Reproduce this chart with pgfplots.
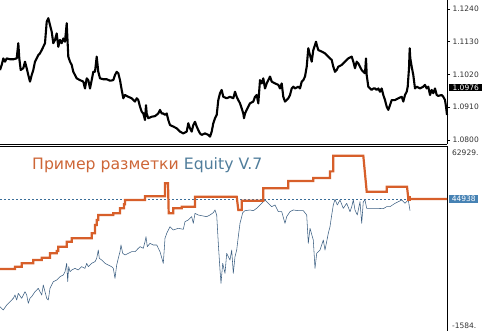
\documentclass[border=0pt]{standalone}
\usepackage{fontspec}
\setmainfont{DejaVu Sans}
\usepackage{pgfplots}
\pgfplotsset{compat=1.18}
\definecolor{eqorange}{RGB}{215,95,42}
\definecolor{eqtitle}{RGB}{205,102,55}
\definecolor{eqblue}{RGB}{60,95,130}
\definecolor{eqtext}{RGB}{80,125,155}
\definecolor{lblblue}{RGB}{70,130,180}
\begin{document}
\begin{tikzpicture}
\useasboundingbox (0pt,0pt) rectangle (482pt,331pt);
% ---------- price panel ----------
\begin{axis}[at={(0pt,187pt)}, anchor=south west, scale only axis,
  width=447pt, height=144pt, xmin=0, xmax=447, ymin=1.07864, ymax=1.12702,
  axis x line*=bottom, axis y line*=right,
  axis line style={-, black, line width=0.8pt},
  xtick=\empty,
  ytick={1.08,1.091,1.102,1.113,1.124},
  yticklabels={1.0800,1.0910,1.1020,1.1130,1.1240},
  tick align=outside, major tick length=3pt,
  tick style={black, line width=0.6pt},
  yticklabel style={font=\fontsize{7.5}{8}\selectfont, text=black!80, xshift=-1pt},
  clip=false]
\addplot[black, line width=2.1pt, line join=round] coordinates {
(0,1.1035)(1.7,1.1052)(3.3,1.1074)(5,1.1063)(6.7,1.1074)(10,1.1071)(13.3,1.1071)(16.7,1.1074)(18.3,1.1125)(19.3,1.1074)(20.7,1.1035)(23.3,1.1041)(25,1.1063)(26.7,1.1041)(28.3,1.1018)(30,1.0996)(31.7,1.1018)(33.3,1.1035)(35,1.1063)(36.7,1.1074)(38.3,1.1085)(40,1.1091)(41.7,1.1102)(43.3,1.1113)(45,1.1125)(46.7,1.1197)(48.3,1.1209)(50,1.1186)(51.7,1.1164)(53.3,1.1125)(55,1.1136)(56.7,1.1158)(58.3,1.1113)(60,1.1136)(61.7,1.1125)(63.3,1.1141)(65,1.1130)(66.7,1.1192)(68.3,1.1080)(70,1.1063)(71.7,1.1052)(73.3,1.1029)(75,1.1018)(76.7,1.1007)(80,1.1001)(83.3,1.0996)(85,1.0973)(86.7,1.1007)(88.3,1.1001)(90,1.0973)(91.7,1.1001)(93.3,1.1029)(95,1.1029)(96.7,1.1080)(98.3,1.1029)(100,1.1007)(103.3,1.1004)(106.7,1.1004)(110,1.0999)(113.3,1.1001)(115,1.1018)(116.7,1.1029)(118.3,1.1024)(120,1.1001)(121.7,1.0968)(123.3,1.0940)(125,1.0951)(128.3,1.0945)(131.7,1.0940)(135,1.0929)(136.7,1.0940)(138.3,1.0934)(140,1.0912)(141.7,1.0895)(143.3,1.0889)(145,1.0867)(146,1.0917)(146.7,1.0889)(148.3,1.0873)(151.7,1.0878)(155,1.0880)(158.3,1.0889)(160,1.0901)(161.7,1.0889)(163.3,1.0889)(165,1.0884)(166.7,1.0889)(168.3,1.0867)(170,1.0850)(173.3,1.0845)(176.7,1.0839)(180,1.0828)(183.3,1.0822)(186.7,1.0828)(188.3,1.0856)(190,1.0839)(191.7,1.0828)(193.3,1.0850)(195,1.0861)(196.7,1.0845)(198.3,1.0833)(200,1.0822)(201.7,1.0817)(205,1.0822)(208.3,1.0817)(210,1.0811)(211.7,1.0828)(213.3,1.0856)(215,1.0873)(216.7,1.0884)(218.3,1.0934)(220,1.0957)(221.7,1.0968)(223.3,1.0945)(226.7,1.0940)(230,1.0945)(233.3,1.0940)(235,1.0962)(236.7,1.0945)(238.3,1.0934)(240,1.0923)(241.7,1.0906)(243.3,1.0889)(244,1.0873)(245,1.0889)(246.7,1.0901)(248.3,1.0912)(250,1.0923)(253.3,1.0929)(255,1.0945)(256.7,1.0951)(258.3,1.0923)(260,1.1001)(261.7,1.0990)(263.3,1.1007)(265,1.0973)(266.7,1.0990)(268.3,1.1001)(270,1.1013)(271.7,1.0996)(275,1.0990)(278.3,1.0985)(280,1.0973)(281.7,1.0990)(283.3,1.0945)(285,1.0929)(286.7,1.0934)(288.3,1.0940)(290,1.0951)(291.7,1.0973)(293.3,1.0979)(295,1.0973)(298.3,1.0979)(300,1.0973)(301.7,1.0996)(303.3,1.1001)(305,1.1013)(306.7,1.1046)(308.3,1.1108)(310,1.1085)(311.7,1.1063)(313.3,1.1102)(315,1.1119)(316,1.1130)(317.3,1.1113)(318.3,1.1102)(321.7,1.1097)(325,1.1091)(328.3,1.1080)(330,1.1074)(331.7,1.1069)(333.3,1.1046)(335,1.1029)(336.7,1.1035)(338.3,1.1046)(341.7,1.1052)(345,1.1063)(348.3,1.1074)(351.7,1.1080)(353.3,1.1063)(355,1.1041)(356.7,1.1063)(358.3,1.1057)(360,1.1046)(361.7,1.1035)(363.3,1.1029)(365,1.1024)(366,1.1074)(366.7,1.1018)(368.3,1.0979)(370,1.0973)(371.7,1.0968)(373.3,1.0973)(375,1.0973)(376.7,1.0968)(378.3,1.0973)(380,1.0962)(381.7,1.0973)(383.3,1.0951)(385,1.0934)(386.7,1.0912)(388.3,1.0901)(390,1.0917)(391.7,1.0934)(395,1.0934)(398.3,1.0940)(401.7,1.0945)(403.3,1.0929)(405,1.0951)(406.7,1.0962)(407.7,1.0979)(409,1.1041)(409.7,1.1108)(410.3,1.1074)(411.7,1.1046)(413.3,1.1018)(415,1.0973)(416.7,1.0979)(420,1.0973)(423.3,1.0979)(425,1.0985)(426.7,1.0973)(428.3,1.0979)(430,1.0951)(431.7,1.0968)(433.3,1.0957)(435,1.0973)(436.7,1.0951)(438.3,1.0948)(441.7,1.0951)(443.3,1.0945)(445,1.0934)(446,1.0912)(447,1.0884)};
\node[fill=black, text=white, anchor=west, inner xsep=1.5pt, inner ysep=1pt,
  minimum width=33pt, font=\fontsize{7.5}{8}\selectfont] at (axis cs:449,1.0976) {1.0976};
\end{axis}
% ---------- equity panel ----------
\begin{axis}[at={(0pt,0pt)}, anchor=south west, scale only axis,
  width=447pt, height=184.5pt, xmin=0, xmax=447, ymin=-1224, ymax=63298,
  axis x line*=top, axis y line*=right,
  axis line style={-, black, line width=0.8pt},
  xtick=\empty, ytick=\empty, clip=false]
\addplot[lblblue!85!black, line width=0.5pt, dash pattern=on 2pt off 2pt] coordinates {(0,44938)(447,44938)};
\addplot[eqblue, line width=0.55pt, line join=round] coordinates {
(0,7286)(3.3,6120)(6.7,7868)(10,9034)(13.3,10200)(15,11366)(16.7,9617)(18.3,11949)(21.7,10200)(25,12531)(26.7,11366)(28.3,8451)(30,10200)(31.7,10783)(35,12531)(38.3,13697)(41.7,11366)(43.3,14863)(46.7,10200)(48.3,9617)(50,13697)(53.3,16028)(56.7,16611)(60,17777)(63.3,18360)(65,19525)(66.7,22440)(67.7,16028)(68.7,21274)(70,19525)(71.7,20108)(75,20691)(78.3,20108)(81.7,21274)(85,20691)(86.7,22440)(88.3,21274)(91.7,22440)(95,23022)(96.7,24188)(98.3,27102)(99.3,24188)(101.7,23605)(105,22440)(108.3,21857)(111.7,21274)(113.3,20691)(115,17194)(116.7,21857)(118.3,24188)(120,26520)(121,28851)(122.7,25937)(125,25354)(128.3,25937)(131.7,26520)(135,26520)(138.3,27685)(140,28268)(143.3,27685)(145,30017)(146,31766)(147.3,28268)(150,29434)(153.3,28851)(156.7,28851)(160,26520)(163.3,22440)(165,31183)(166.7,32931)(170,35263)(173.3,34097)(178.3,34680)(183.3,34330)(185,37011)(188.3,37594)(191.7,38760)(193.3,36428)(195,39925)(198.3,39342)(203.3,38992)(206.7,38760)(210,39342)(213.3,40159)(215,41091)(216.7,39342)(218.3,29434)(220,20108)(221,15446)(222.7,22440)(225,18943)(226.7,25937)(230,23606)(231.7,27103)(233.3,18943)(235,24772)(236.7,27103)(238.3,31766)(240,36428)(242.7,40159)(245,40859)(250,41091)(253.3,40859)(256.7,41674)(260,42840)(263.3,44005)(265,44588)(268.3,43422)(271.7,42257)(275,42840)(278.3,40509)(281.7,40509)(285,36428)(286.7,38760)(290,40509)(293.3,41091)(298.3,40859)(303.3,40859)(306.7,39342)(308.3,29434)(310,34680)(313.3,30600)(315,20692)(316.7,25937)(320,27103)(323.3,30600)(325,27103)(328.3,32931)(330,35263)(331.7,39342)(333.3,42840)(335,44821)(337.3,42840)(340,44588)(343.3,41674)(346.7,43422)(350,40509)(351.7,42257)(353.3,44588)(355,41091)(357.3,39342)(360,44005)(361.7,36428)(363.3,44005)(365,44588)(366.7,41674)(371.7,41674)(376.7,41674)(383.3,41557)(386.7,42257)(390,42257)(395,43422)(398.3,44005)(401.7,44588)(405,43422)(408.3,44588)(410,40859)};
\addplot[eqorange, line width=2.2pt, line join=miter] coordinates {
(0,20458)(15,20458)(15,21274)(21.7,21274)(21.7,22440)(33.3,22440)(33.3,23606)(41.7,23606)(41.7,24422)(50,24422)(50,25937)(56.7,25937)(56.7,26752)(58.3,26752)(58.3,28268)(66.7,28268)(66.7,30017)(71.7,30017)(71.7,31183)(91.7,31183)(91.7,32931)(95,32931)(95,35846)(96.7,35846)(96.7,37594)(98.3,37594)(98.3,39342)(113.3,39342)(113.3,39925)(120,39925)(120,41674)(124,41674)(124,43073)(125,43073)(125,44588)(145,44588)(145,45900)(165,45900)(165,50416)(168,50416)(168.7,39925)(173.3,39925)(173.3,41674)(181.7,41674)(181.7,42257)(195,42257)(195,45754)(236.7,45754)(238.3,41091)(241.7,41091)(241.7,44300)(263.3,44300)(263.3,48668)(288.3,48668)(288.3,51200)(313.3,51200)(313.3,52300)(330,52300)(330,54600)(333.3,54600)(333.3,60092)(363.3,60092)(366.7,47502)(386.7,47502)(386.7,49251)(407,49251)(408.3,45171)(409,44938)(447,44938)};
\addplot[eqorange, only marks, mark=square*, mark size=1.8pt] coordinates {(408.5,45171)};
\node[anchor=west, font=\fontsize{15.7}{16}\selectfont, inner sep=0pt] at (axis cs:32,56800)
  {\textcolor{eqtitle}{Пример разметки} \textcolor{eqtext}{Equity V.7}};
\node[anchor=north west, font=\fontsize{7.5}{8}\selectfont, text=black!80, inner sep=0pt, xshift=5pt, yshift=-3pt]
  at (rel axis cs:1,1) {62929.};
\node[anchor=south west, font=\fontsize{7.5}{8}\selectfont, text=black!80, inner sep=0pt, xshift=5pt, yshift=2pt]
  at (rel axis cs:1,0) {-1584.};
\node[fill=lblblue, text=white, anchor=west, inner xsep=1.5pt, inner ysep=1pt,
  minimum width=29pt, font=\fontsize{7.5}{8}\selectfont] at (axis cs:449,44938) {44938};
\end{axis}
\end{tikzpicture}
\end{document}
